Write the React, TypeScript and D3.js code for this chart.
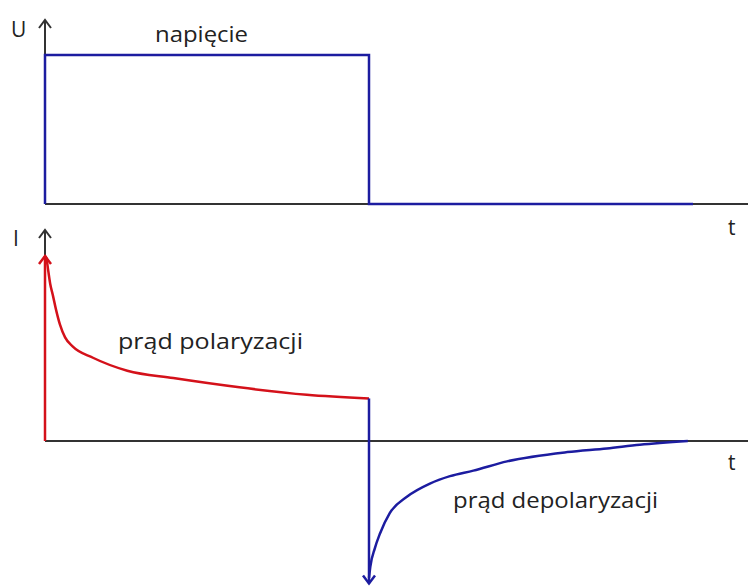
import React from 'react'
import * as d3 from 'd3'

// voltage step (top panel)
const stepT = [0, 0, 5, 5, 10]
const stepU = [0, 1, 1, 0, 0]

// polarization current (red)
const polT = [0, 0.02, 0.05, 0.08, 0.12, 0.17, 0.23, 0.31, 0.43, 0.74, 1.27, 1.98, 3.0, 4.04, 5.0]
const polI = [1, 0.99, 0.92, 0.85, 0.79, 0.71, 0.63, 0.56, 0.51, 0.45, 0.38, 0.34, 0.29, 0.25, 0.23]

// depolarization current (blue)
const depT = [5.0, 5.02, 5.09, 5.17, 5.32, 5.59, 5.94, 6.25, 6.61, 7.13, 8.06, 8.67, 9.18, 9.92]
const depI = [-0.74, -0.68, -0.58, -0.5, -0.39, -0.3, -0.23, -0.19, -0.16, -0.11, -0.06, -0.04, -0.02, 0]

const BLUE = '#1c1ca0'
const RED = '#d4111a'
const AXIS = '#333'
const FONT = "'Open Sans', sans-serif"

const chevron = (x: number, y: number, dir: number) =>
  `M${x - 6},${y + dir * 8} L${x},${y} L${x + 6},${y + dir * 8}`

const App = () => {
  const x = d3.scaleLinear().domain([0, 10]).range([45, 693])
  const yU = d3.scaleLinear().domain([0, 1]).range([204, 55])
  const yI = d3.scaleLinear().domain([-1, 1]).range([626, 256])

  const uLine = d3.line<number>().x((_, i) => x(stepT[i])).y(d => yU(d))
  const polLine = d3.line<number>().x((_, i) => x(polT[i])).y(d => yI(d)).curve(d3.curveMonotoneX)
  const depLine = d3.line<number>().x((_, i) => x(depT[i])).y(d => yI(d)).curve(d3.curveMonotoneX)

  const x0 = x(0)
  const xs = x(5)

  return (
    <svg width={748} height={587} style={{ display: 'block', position: 'absolute', left: 0, top: 0 }}>
      <rect width={748} height={587} fill="#fff" />
      {/* top panel axes */}
      <line x1={x0} x2={748} y1={yU(0)} y2={yU(0)} stroke={AXIS} strokeWidth={2} />
      <line x1={x0} x2={x0} y1={yU(0)} y2={20} stroke={AXIS} strokeWidth={2} />
      <path d={chevron(x0, 20, 1)} fill="none" stroke={AXIS} strokeWidth={2} />
      <path d={uLine(stepU) || ''} fill="none" stroke={BLUE} strokeWidth={2.5} />
      <text x={11} y={37} fontFamily={FONT} fontSize={21} fill="#222">U</text>
      <text x={155} y={42} fontFamily={FONT} fontSize={22} textLength={93} lengthAdjust="spacingAndGlyphs" fill="#222">napięcie</text>
      <text x={728} y={235} fontFamily={FONT} fontSize={21} fill="#222">t</text>

      {/* bottom panel axes */}
      <line x1={x0} x2={748} y1={yI(0)} y2={yI(0)} stroke={AXIS} strokeWidth={2} />
      <line x1={x0} x2={x0} y1={yI(0)} y2={230} stroke={AXIS} strokeWidth={2} />
      <path d={chevron(x0, 230, 1)} fill="none" stroke={AXIS} strokeWidth={2} />
      <text x={13} y={246} fontFamily={FONT} fontSize={21} fill="#222">I</text>
      <text x={728} y={470} fontFamily={FONT} fontSize={21} fill="#222">t</text>

      {/* polarization */}
      <line x1={x0} x2={x0} y1={yI(0)} y2={yI(1)} stroke={RED} strokeWidth={2.5} />
      <path d={chevron(x0, yI(1), 1)} fill="none" stroke={RED} strokeWidth={2.5} />
      <path d={polLine(polI) || ''} fill="none" stroke={RED} strokeWidth={2.5} />
      <text x={118} y={349} fontFamily={FONT} fontSize={22} textLength={185} lengthAdjust="spacingAndGlyphs" fill="#222">prąd polaryzacji</text>

      {/* depolarization */}
      <line x1={xs} x2={xs} y1={yI(polI[polI.length - 1])} y2={yI(-0.77)} stroke={BLUE} strokeWidth={2.5} />
      <path d={chevron(xs, yI(-0.77), -1)} fill="none" stroke={BLUE} strokeWidth={2.5} />
      <path d={depLine(depI) || ''} fill="none" stroke={BLUE} strokeWidth={2.5} />
      <text x={453} y={508} fontFamily={FONT} fontSize={22} textLength={205} lengthAdjust="spacingAndGlyphs" fill="#222">prąd depolaryzacji</text>
    </svg>
  )
}

export default App
